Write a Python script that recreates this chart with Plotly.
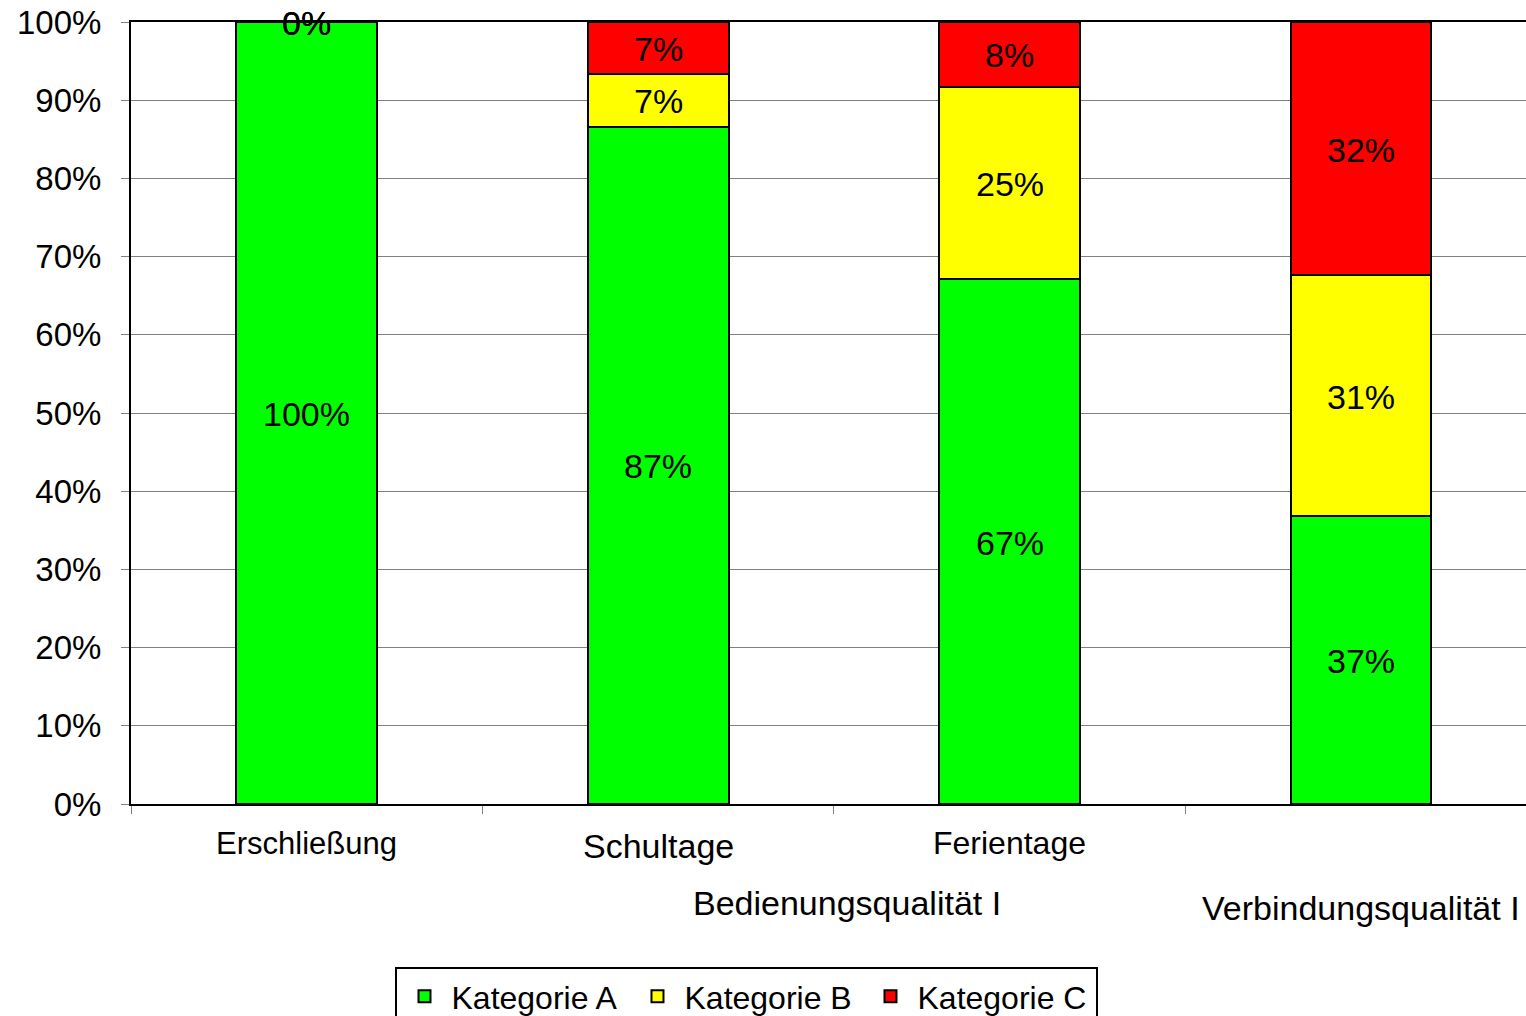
import plotly.graph_objects as go

# Categories and their groups
categories = ["Erschließung", "Schultage", "Ferientage", "Verbindungsqualität"]
category_labels = ["Erschließung", "Schultage", "Ferientage", ""]
groups = ["Bedienungsqualität I", "Verbindungsqualität I"]

# Shares per category (percent)
kategorie_a = [100.0, 86.6, 67.1, 36.8]
kategorie_b = [0.0, 6.8, 24.6, 30.8]
kategorie_c = [0.0, 6.6, 8.3, 32.4]

# Y axis ticks
y_ticks = list(range(0, 101, 10))
y_tick_labels = [f"{t}%" for t in y_ticks]

series = [
    ("Kategorie A", kategorie_a, "#00FF00"),
    ("Kategorie B", kategorie_b, "#FFFF00"),
    ("Kategorie C", kategorie_c, "#FF0000"),
]

FONT = "Liberation Sans, Arial, sans-serif"

fig = go.Figure()

for name, vals, color in series:
    fig.add_trace(go.Bar(
        name=name, x=categories, y=vals, width=0.4,
        marker=dict(color=color, line=dict(color="black", width=2)),
        hoverinfo="skip",
    ))

# Value labels at the middle of each stacked segment
base = [0.0] * len(categories)
for name, vals, color in series:
    for cat, b, v in zip(categories, base, vals):
        fig.add_annotation(
            x=cat, y=b + v / 2, xref="x", yref="y", text=f"{v:.0f}%",
            showarrow=False, yanchor="middle", yshift=-1,
            font=dict(family=FONT, size=34, color="black"),
        )
    base = [b + v for b, v in zip(base, vals)]

# Category labels below the axis
label_y = [-0.0499, -0.0537, -0.0499, -0.0499]
label_size = [31, 34, 32, 32]
for cat, lab, ly, ls in zip(categories, category_labels, label_y, label_size):
    if lab:
        fig.add_annotation(x=cat, y=ly, xref="x", yref="paper", text=lab,
                           showarrow=False, yanchor="middle",
                           font=dict(family=FONT, size=ls, color="black"))

# Group labels
fig.add_annotation(x=1.5, y=-0.1266, xref="x", yref="paper", text=groups[0],
                   xshift=13, showarrow=False, yanchor="middle",
                   font=dict(family=FONT, size=34, color="black"))
fig.add_annotation(x=3, y=-0.1330, xref="x", yref="paper", text=groups[1],
                   showarrow=False, yanchor="middle",
                   font=dict(family=FONT, size=34, color="black"))

fig.update_layout(
    width=1526, height=1016,
    margin=dict(l=131, r=0, t=22, b=212, autoexpand=False),
    barmode="stack",
    plot_bgcolor="white", paper_bgcolor="white",
    font=dict(family=FONT, size=32, color="black"),
    showlegend=True,
    legend=dict(
        orientation="h", x=0.1896, y=-0.2084, xanchor="left", yanchor="top",
        bordercolor="black", borderwidth=2, bgcolor="white",
        font=dict(family=FONT, size=32, color="black"),
        itemwidth=44,
        entrywidth=174, entrywidthmode="pixels",
        traceorder="normal",
    ),
    xaxis=dict(
        type="category", range=[-0.5, 3.469],
        showticklabels=False, showgrid=False, zeroline=False,
        showline=True, linecolor="black", linewidth=2, mirror=True,
        ticks="outside", tickson="boundaries", ticklen=8,
        tickcolor="#808080", tickwidth=1,
    ),
    yaxis=dict(
        range=[0, 100], tickvals=y_ticks, ticktext=y_tick_labels,
        showgrid=True, gridcolor="#808080", gridwidth=1, zeroline=False,
        showline=True, linecolor="black", linewidth=2,
        ticks="outside", ticklen=8, tickcolor="#808080", tickwidth=1,
        ticklabelstandoff=13,
        tickfont=dict(family=FONT, size=33, color="black"),
    ),
)

fig.write_html("out.html")
